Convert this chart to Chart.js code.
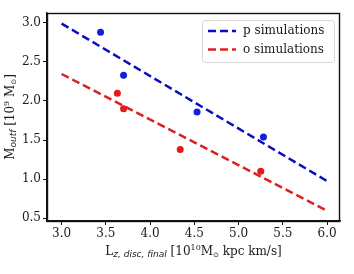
<!DOCTYPE html>
<html>
<head>
<meta charset="utf-8">
<script src="https://cdn.jsdelivr.net/npm/chart.js@4/dist/chart.umd.min.js"></script>
<style>
  html, body { margin: 0; padding: 0; background: #fff; }
  #wrap { width: 354px; height: 274px; }
</style>
</head>
<body>
<div id="wrap"><canvas id="chart" width="354" height="274"></canvas></div>
<script>
// ---------------- Data ----------------
const xTicks = [3.0, 3.5, 4.0, 4.5, 5.0, 5.5, 6.0];
const yTicks = [0.5, 1.0, 1.5, 2.0, 2.5, 3.0];

// p simulations (blue)
const pX = [3.44, 3.70, 4.53, 5.28];
const pY = [2.88, 2.33, 1.86, 1.54];
// o simulations (red)
const oX = [3.63, 3.70, 4.34, 5.25];
const oY = [2.10, 1.90, 1.38, 1.10];

// fitted lines
const fitX = [3.0, 6.0];
const pFitY = [2.99, 0.975];
const oFitY = [2.345, 0.595];

const seriesNames = ["p simulations", "o simulations"];
const blue = "#0c0cc4";
const red = "#dd1f1f";
const blueDot = "#1020e0";
const redDot = "#e81818";

const serif = "'DejaVu Serif', serif";
const sans = "'DejaVu Sans', sans-serif";

const toPts = (xs, ys) => xs.map((x, i) => ({ x: x, y: ys[i] }));

// draw a run of text pieces (normal / sub / sup) centred at 0,0
function drawPieces(ctx, pieces) {
    let total = 0;
    pieces.forEach(p => { ctx.font = p.font; p.w = ctx.measureText(p.t).width; total += p.w; });
    let x = -total / 2;
    pieces.forEach(p => {
        ctx.font = p.font;
        ctx.fillText(p.t, x, p.dy || 0);
        x += p.w;
    });
}

const extrasPlugin = {
    id: "extras",
    afterDraw(chart) {
        const ctx = chart.ctx;
        const a = chart.chartArea;
        ctx.save();

        // frame
        ctx.strokeStyle = "#111";
        ctx.lineWidth = 1.4;
        ctx.strokeRect(a.left + 0.5, a.top + 0.5, a.right - a.left - 1, a.bottom - a.top);

        ctx.fillStyle = "#1a1a1a";
        ctx.textBaseline = "middle";
        ctx.textAlign = "left";

        // x title
        ctx.save();
        ctx.translate((a.left + a.right) / 2, 252);
        drawPieces(ctx, [
            { t: "L", font: "12px " + serif },
            { t: "z, disc, final", font: "italic 9px " + sans, dy: 3 },
            { t: " [10", font: "12px " + serif },
            { t: "10", font: "8px " + serif, dy: -4 },
            { t: "M", font: "12px " + serif },
            { t: "\u2299", font: "7px " + sans, dy: 3 },
            { t: " kpc km/s]", font: "12px " + serif }
        ]);
        ctx.restore();

        // y title
        ctx.save();
        ctx.translate(11, (a.top + a.bottom) / 2);
        ctx.rotate(-Math.PI / 2);
        drawPieces(ctx, [
            { t: "M", font: "12px " + serif },
            { t: "outf", font: "italic 9px " + sans, dy: 3 },
            { t: " [10", font: "12px " + serif },
            { t: "9", font: "8px " + serif, dy: -4 },
            { t: " M", font: "12px " + serif },
            { t: "\u2299", font: "7px " + sans, dy: 3 },
            { t: "]", font: "12px " + serif }
        ]);
        ctx.restore();

        // legend (upper right, inside axes)
        const lw = 132, lh = 42;
        const lx = a.right - lw - 6, ly = a.top + 7;
        ctx.beginPath();
        ctx.roundRect(lx + 0.5, ly + 0.5, lw, lh, 3);
        ctx.fillStyle = "rgba(255,255,255,0.8)";
        ctx.fill();
        ctx.strokeStyle = "#d6d6d6";
        ctx.lineWidth = 1;
        ctx.stroke();

        const cols = [blue, red];
        seriesNames.forEach((name, i) => {
            const yy = ly + 11 + i * 18.5;
            ctx.beginPath();
            ctx.setLineDash([8, 4]);
            ctx.lineWidth = 2.5;
            ctx.strokeStyle = cols[i];
            ctx.moveTo(lx + 6, yy);
            ctx.lineTo(lx + 34, yy);
            ctx.stroke();
            ctx.setLineDash([]);
            ctx.fillStyle = "#1a1a1a";
            ctx.font = "12px " + serif;
            ctx.fillText(name, lx + 41, yy);
        });
        ctx.restore();
    }
};

const ctx = document.getElementById("chart").getContext("2d");
new Chart(ctx, {
    type: "scatter",
    data: {
        datasets: [
            {
                label: seriesNames[0],
                data: toPts(fitX, pFitY),
                showLine: true,
                borderColor: blue,
                borderWidth: 2.5,
                borderDash: [8, 4],
                pointRadius: 0
            },
            {
                label: seriesNames[1],
                data: toPts(fitX, oFitY),
                showLine: true,
                borderColor: red,
                borderWidth: 2.5,
                borderDash: [8, 4],
                pointRadius: 0
            },
            {
                label: "p points",
                data: toPts(pX, pY),
                backgroundColor: blueDot,
                borderWidth: 0,
                pointRadius: 3.5
            },
            {
                label: "o points",
                data: toPts(oX, oY),
                backgroundColor: redDot,
                borderWidth: 0,
                pointRadius: 3.5
            }
        ]
    },
    options: {
        responsive: false,
        animation: false,
        layout: { padding: { left: 0, right: 14, top: 13, bottom: 0 } },
        plugins: {
            legend: { display: false },
            tooltip: { enabled: false }
        },
        scales: {
            x: {
                type: "linear",
                min: 2.835,
                max: 6.145,
                afterBuildTicks: s => { s.ticks = xTicks.map(v => ({ value: v })); },
                afterFit: s => { s.height = 53; },
                grid: { display: true, drawOnChartArea: false, drawTicks: true, tickLength: 4, color: "#111" },
                border: { display: true, color: "#111", width: 1.4 },
                ticks: {
                    color: "#1a1a1a",
                    font: { family: serif, size: 12 },
                    padding: 2,
                    maxRotation: 0,
                    callback: v => v.toFixed(1)
                }
            },
            y: {
                type: "linear",
                min: 0.465,
                max: 3.125,
                afterBuildTicks: s => { s.ticks = yTicks.map(v => ({ value: v })); },
                afterFit: s => { s.width = 47; },
                grid: { display: true, drawOnChartArea: false, drawTicks: true, tickLength: 4, color: "#111" },
                border: { display: true, color: "#111", width: 1.4 },
                ticks: {
                    color: "#1a1a1a",
                    font: { family: serif, size: 12 },
                    padding: 2,
                    callback: v => v.toFixed(1)
                }
            }
        }
    },
    plugins: [extrasPlugin]
});
</script>
</body>
</html>
